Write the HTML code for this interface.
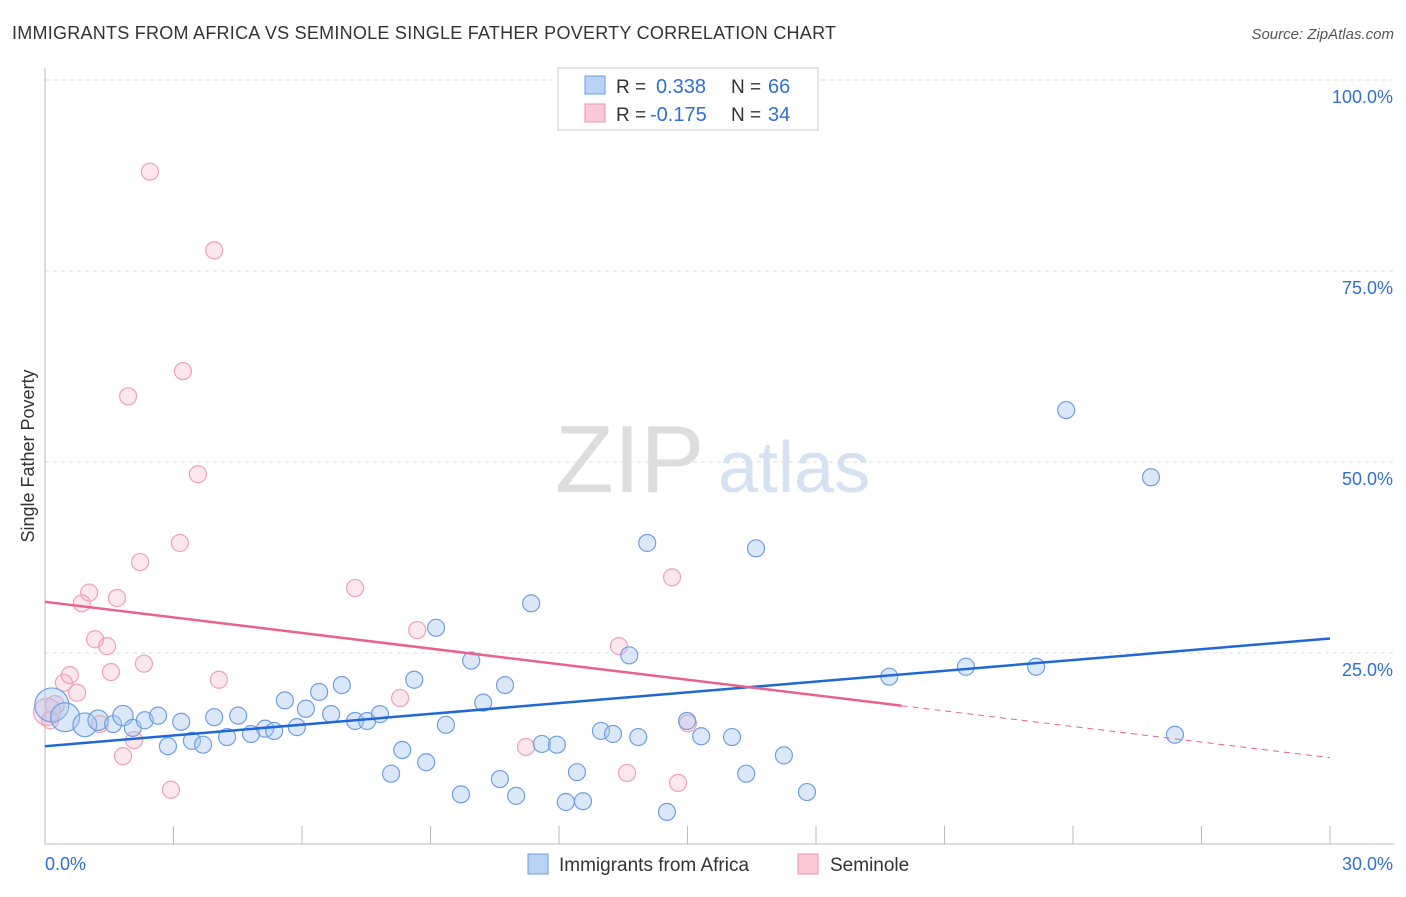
<!DOCTYPE html>
<html><head><meta charset="utf-8"><style>
body{margin:0;background:#fff;font-family:"Liberation Sans",sans-serif;}
svg text{font-family:"Liberation Sans",sans-serif;}
</style></head><body>
<svg id="c" width="1406" height="892">
<text x="12" y="39" font-size="18" fill="#333" textLength="824">IMMIGRANTS FROM AFRICA VS SEMINOLE SINGLE FATHER POVERTY CORRELATION CHART</text>
<text x="1394" y="39" font-size="15" fill="#555" text-anchor="end" font-style="italic">Source: ZipAtlas.com</text>
<text transform="translate(34,456) rotate(-90)" font-size="18" fill="#333" text-anchor="middle">Single Father Poverty</text>
<text x="555" y="492" font-size="96" fill="#ddd" font-family="Liberation Serif">ZIP</text>
<text x="718" y="492" font-size="72" fill="#d4e2f4">atlas</text>
<g id="grid"></g><g id="pts"></g><g id="lines"></g>
<g>
<rect x="558" y="68" width="260" height="62" fill="#fff" stroke="#ccc"/>
<rect x="585" y="76" width="20" height="18" fill="#b8d3f5" stroke="#6a9de0"/>
<rect x="585" y="104" width="20" height="18" fill="#fbc9d8" stroke="#ec92ad"/>
<text x="616" y="93" font-size="19" fill="#333">R =</text>
<text x="656" y="93" font-size="20" fill="#2f6fd6">0.338</text>
<text x="731" y="93" font-size="19" fill="#333">N =</text>
<text x="768" y="93" font-size="20" fill="#2f6fd6">66</text>
<text x="616" y="121" font-size="19" fill="#333">R =</text>
<text x="650" y="121" font-size="20" fill="#2f6fd6">-0.175</text>
<text x="731" y="121" font-size="19" fill="#333">N =</text>
<text x="768" y="121" font-size="20" fill="#2f6fd6">34</text>
</g>
<g>
<rect x="528" y="854" width="20" height="20" fill="#b8d3f5" stroke="#6a9de0"/>
<text x="559" y="871" font-size="19" fill="#333">Immigrants from Africa</text>
<rect x="798" y="854" width="20" height="20" fill="#fbc9d8" stroke="#ec92ad"/>
<text x="830" y="871" font-size="19" fill="#333">Seminole</text>
</g>
</svg>
<script>
const yTicks=[25,50,75,100];
const xTickLabels=["0.0%","30.0%"];
const blueX=[0.16,0.47,0.93,1.24,1.59,1.82,2.05,2.33,2.64,2.87,3.18,3.43,3.69,3.95,4.25,4.51,4.81,5.14,5.35,5.60,5.88,6.09,6.40,6.68,6.93,7.24,7.52,7.82,8.08,8.34,8.62,8.90,9.13,9.36,9.71,9.95,10.23,10.62,10.74,11.0,11.35,11.60,11.95,12.16,12.42,12.56,12.98,13.26,13.64,13.85,14.06,14.52,14.99,15.32,16.04,16.37,16.60,17.25,17.79,19.71,21.50,23.14,23.84,25.82,26.38];
const blueY=[18.2,16.6,15.6,16.2,15.7,16.8,15.2,16.2,16.8,12.8,16.0,13.5,13.0,16.6,14.0,16.8,14.4,15.1,14.8,18.8,15.3,17.7,19.9,17.0,20.8,16.1,16.1,17.0,9.2,12.3,21.5,10.7,28.3,15.6,6.5,24.0,18.5,8.5,20.8,6.3,31.5,13.1,13.0,5.5,9.4,5.6,14.8,14.4,24.7,14.0,39.4,4.2,16.1,14.1,14.0,9.2,38.7,11.6,6.8,21.9,23.2,23.2,56.8,48.0,14.3];
const blueW=[2,1.7,1.4,1.2,1,1.2,1,1,1,1,1,1,1,1,1,1,1,1,1,1,1,1,1,1,1,1,1,1,1,1,1,1,1,1,1,1,1,1,1,1,1,1,1,1,1,1,1,1,1,1,1,1,1,1,1,1,1,1,1,1,1,1,1,1,1];
const pinkX=[2.45,3.95,3.22,1.94,3.57,3.15,2.22,1.03,1.68,0.86,7.24,14.64,1.17,1.45,8.69,13.40,0.58,1.54,2.31,4.06,0.44,0.75,8.29,0.23,0.05,1.28,15.01,2.08,11.23,1.82,13.59,14.78,2.94,0.12];
const pinkY=[88.0,77.7,61.9,58.6,48.4,39.4,36.9,32.9,32.2,31.5,33.5,34.9,26.8,25.9,28.0,25.9,22.1,22.5,23.6,21.5,21.1,19.8,19.1,18.2,17.3,15.7,15.8,13.6,12.7,11.5,9.3,8.0,7.1,16.2];
const pinkW=[1,1,1,1,1,1,1,1,1,1,1,1,1,1,1,1,1,1,1,1,1,1,1,1.1,1.6,1,1,1,1,1,1,1,1,1];
const blueTrend=[12.8,26.9];
const pinkTrend=[31.7,11.3];
const pinkSolidEnd=20;

const NS="http://www.w3.org/2000/svg";
const X=v=>45+v*(1285/30), Y=v=>844-v*7.64;
function mk(t,a,p){const e=document.createElementNS(NS,t);for(const k in a)e.setAttribute(k,a[k]);p.appendChild(e);return e;}
const grid=document.getElementById('grid');
yTicks.forEach(t=>{
 const l=mk('line',{x1:45,x2:1394,y1:Y(t),y2:Y(t),stroke:'#ddd','stroke-dasharray':'4,4'},grid);
 
 
 const tx=mk('text',{x:1393,y:Y(t)+23,'font-size':18,fill:'#2f6fd6','text-anchor':'end'},grid);tx.textContent=t.toFixed(1)+'%';
 
 
});
mk('line',{x1:45,x2:45,y1:68,y2:844,stroke:'#bbb'},grid);
mk('line',{x1:45,x2:1394,y1:844,y2:844,stroke:'#bbb'},grid);
for(let i=1;i<=10;i++){const t=mk('line',{x1:X(i*3),x2:X(i*3),y1:826,y2:844,stroke:'#bbb'},grid);
 
 }
const xl=mk('text',{x:45,y:870,'font-size':18,fill:'#2f6fd6'},grid);xl.textContent=xTickLabels[0];


const xr=mk('text',{x:1393,y:870,'font-size':18,fill:'#2f6fd6','text-anchor':'end'},grid);xr.textContent=xTickLabels[1];


const pts=document.getElementById('pts');
pinkX.forEach((v,i)=>{const c=mk('circle',{cx:X(v),cy:Y(pinkY[i]),r:8.5*pinkW[i],fill:'rgba(248,175,198,0.3)',stroke:'#f0a0b9','stroke-width':1.2},pts);
 
 });
blueX.forEach((v,i)=>{const c=mk('circle',{cx:X(v),cy:Y(blueY[i]),r:8.5*blueW[i],fill:'rgba(165,198,240,0.4)',stroke:'#6f9fe2','stroke-width':1.2},pts);
 
 });
const lines=document.getElementById('lines');
const bl=mk('line',{x1:X(0),y1:Y(blueTrend[0]),x2:X(30),y2:Y(blueTrend[1]),stroke:'#2168d6','stroke-width':2.5},lines);


const pm=pinkTrend[0]+(pinkTrend[1]-pinkTrend[0])*pinkSolidEnd/30;
const pl=mk('line',{x1:X(0),y1:Y(pinkTrend[0]),x2:X(pinkSolidEnd),y2:Y(pm),stroke:'#e8628e','stroke-width':2.5},lines);


const pd=mk('line',{x1:X(pinkSolidEnd),y1:Y(pm),x2:X(30),y2:Y(pinkTrend[1]),stroke:'#e8628e','stroke-width':1,'stroke-dasharray':'6,5'},lines);


</script>
</body></html>
